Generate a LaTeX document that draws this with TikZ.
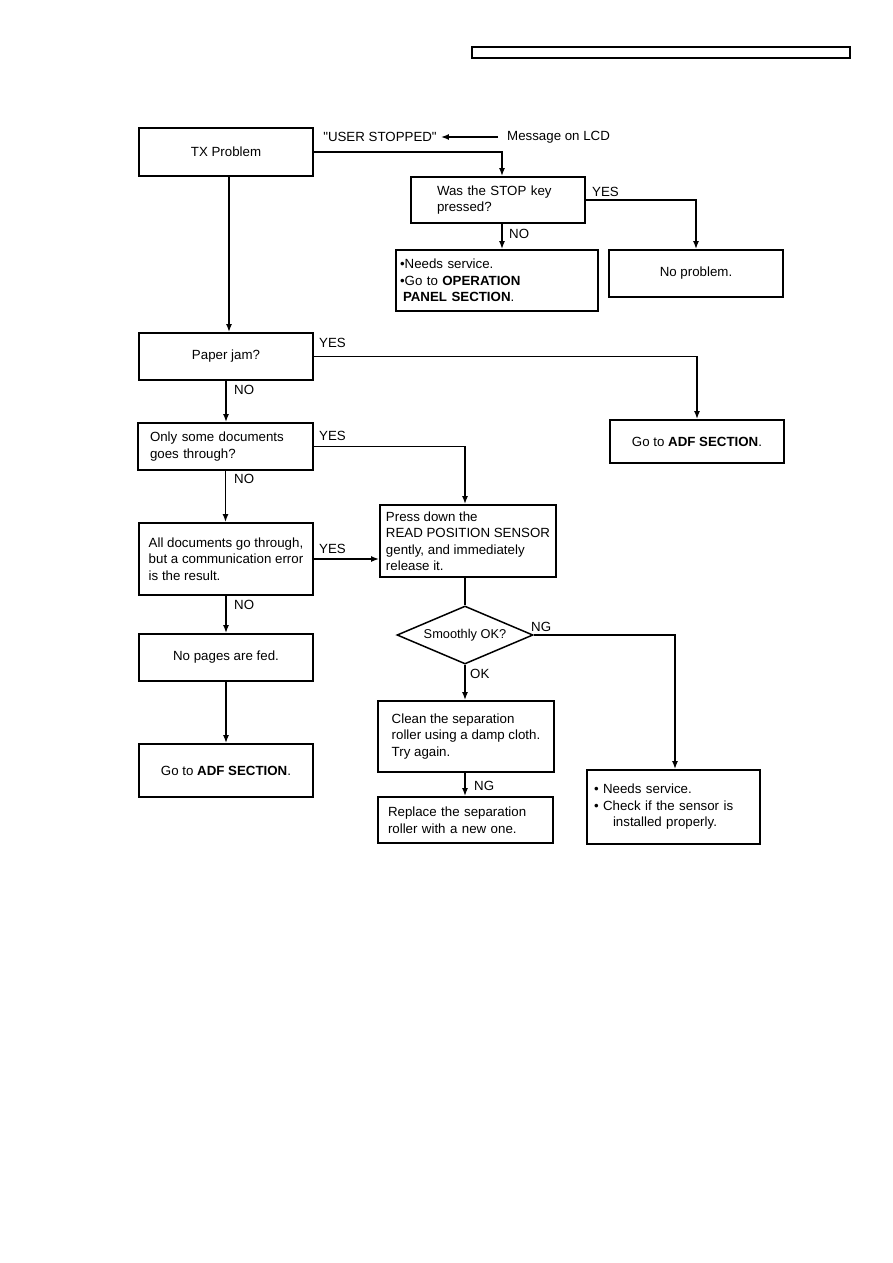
\documentclass[tikz,border=0pt]{standalone}
\usepackage{fontspec}
\setmainfont{Liberation Sans}[Ligatures=TeXOff]
\usepackage{tikz}
\usetikzlibrary{arrows.meta,positioning,shapes.geometric,calc}

\begin{document}
\begin{tikzpicture}[
  x=1pt, y=-1pt,
  font=\fontsize{13.3}{16.5}\selectfont,
  box/.style={draw, line width=1.8pt, minimum width=174pt, minimum height=47pt, align=center, inner sep=2pt},
  lbox/.style={box, align=left},
  decide/.style={draw, line width=1.5pt, diamond, aspect=2.34, minimum width=136pt, minimum height=58pt, inner sep=0pt, font=\fontsize{12.8}{15}\selectfont},
  lbl/.style={inner sep=1pt},
  arrow/.style={-{Latex[length=8pt,width=6pt]}, line width=1.6pt},
  link/.style={line width=1.6pt}
]
  \useasboundingbox (0,0) rectangle (893,1263);
  \node[draw, line width=1.3pt, minimum width=378pt, minimum height=11pt, inner sep=0pt] (header) at (661,52.5) {};

  \node[box, minimum height=48pt] (txprob) at (226,152) {TX Problem};
  \node[lbl] (usrmsg) at (380,137) {"USER STOPPED"};
  \node[lbl, anchor=west, inner xsep=9pt] (lcdmsg) at (498,137) {Message on LCD};
  \node[lbox, minimum height=46pt, text width=122pt] (stopq) at (498,200) {Was the STOP key\\pressed?};
  \node[lbox, minimum width=202pt, minimum height=61pt, text width=194pt] (opsvc) at (497,280.5)
    {\textbullet Needs service.\\\textbullet Go to \textbf{OPERATION}\\\hspace*{3pt}\textbf{PANEL SECTION}.};
  \node[box] (noprob) at (696,273.5) {No problem.};

  \node[box] (jam) at (226,356.5) {Paper jam?};
  \node[box, minimum height=43pt] (adfr) at (697,441.5) {Go to \textbf{ADF SECTION}.};
  \node[lbox, minimum width=175pt, text width=151pt] (some) at (225.5,446.5) {Only some documents\\goes through?};
  \node[lbox, minimum height=72pt] (alldoc) at (226,559) {All documents go through,\\but a communication error\\is the result.};
  \node[lbox, minimum width=176pt, minimum height=72pt] (press) at (468,541)
    {Press down the\\READ POSITION SENSOR\\gently, and immediately\\release it.};
  \node[box] (nopages) at (226,657.5) {No pages are fed.};
  \node[box, minimum height=53pt] (adfl) at (226,770.5) {Go to \textbf{ADF SECTION}.};

  \node[decide] (smooth) at (465,635) {Smoothly OK?};
  \node[lbox, minimum width=176pt, minimum height=71pt] (clean) at (466,736.5)
    {Clean the separation\\roller using a damp cloth.\\Try again.};
  \node[lbox, minimum width=175pt, minimum height=46pt, text width=155pt] (replace) at (465.5,820)
    {Replace the separation\\roller with a new one.};
  \node[lbox, minimum width=173pt, minimum height=74pt, text width=159pt] (needsvc) at (673.5,807)
    {\textbullet\ Needs service.\\\textbullet\ Check if the sensor is\\\hspace*{19pt}installed properly.};

  \draw[arrow] (lcdmsg.west) -- ([xshift=3pt]usrmsg.east);
  \draw[arrow] (txprob.east) -| ([xshift=4pt]stopq.north);
  \draw[arrow] (stopq.east) -| (noprob.north);
  \draw[arrow] ([xshift=4pt]stopq.south) -- ([xshift=4pt]stopq.south |- opsvc.north);
  \draw[arrow] ([xshift=3pt]txprob.south) -- ([xshift=3pt]txprob.south |- jam.north);
  \draw[arrow] (jam.east) -| (adfr.north);
  \draw[arrow] (jam.south) -- (jam.south |- some.north);
  \draw[arrow] (some.east) -| ([xshift=-3pt]press.north);
  \draw[arrow] (some.south) -- (some.south |- alldoc.north);
  \draw[arrow] (alldoc.east) -- (alldoc.east -| press.west);
  \draw[arrow] (alldoc.south) -- (nopages.north);
  \draw[arrow] (nopages.south) -- (adfl.north);
  \draw[link] (press.south -| smooth.north) -- (smooth.north);
  \draw[arrow] (smooth.east) -| ([xshift=1.5pt]needsvc.north);
  \draw[arrow] (smooth.south) -- (smooth.south |- clean.north);
  \draw[arrow] (smooth.south |- clean.south) -- (smooth.south |- replace.north);

  \node[lbl, anchor=west] at (591,192) {YES};
  \node[lbl, anchor=west] at (508,234) {NO};
  \node[lbl, anchor=west] at (318,343) {YES};
  \node[lbl, anchor=west] at (233,390) {NO};
  \node[lbl, anchor=west] at (318,436) {YES};
  \node[lbl, anchor=west] at (233,479) {NO};
  \node[lbl, anchor=west] at (318,549) {YES};
  \node[lbl, anchor=west] at (233,605) {NO};
  \node[lbl, anchor=west] at (530,627) {NG};
  \node[lbl, anchor=west] at (469,674) {OK};
  \node[lbl, anchor=west] at (473,786) {NG};
\end{tikzpicture}
\end{document}
